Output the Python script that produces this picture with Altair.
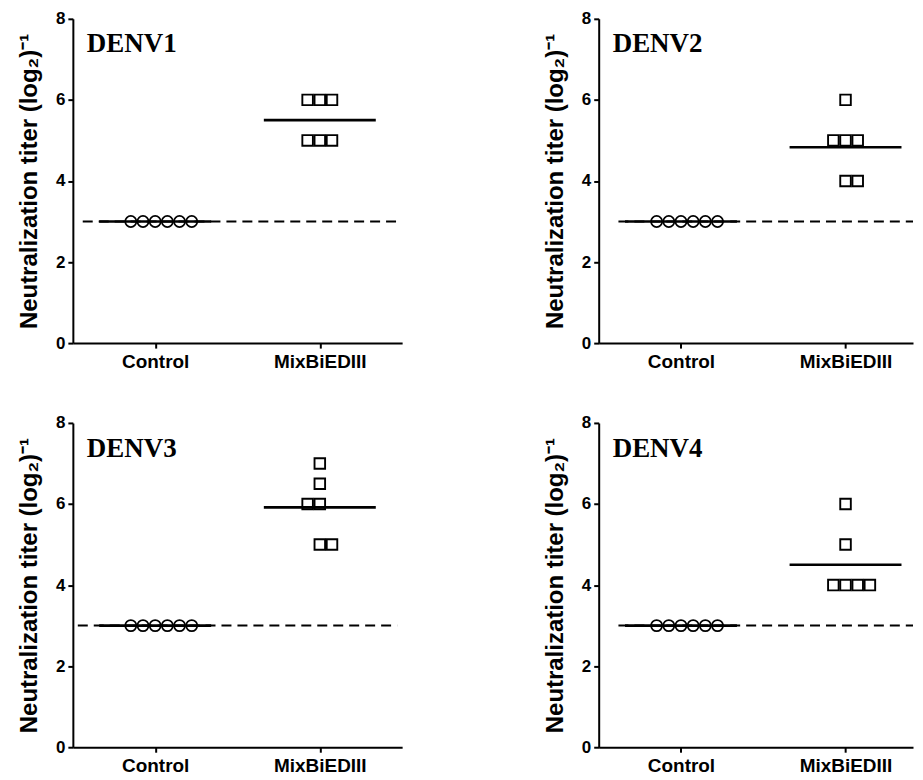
import altair as alt
import pandas as pd

# ---------------- data ----------------
panels = ["DENV1", "DENV2", "DENV3", "DENV4"]
groups = ["Control", "MixBiEDIII"]
group_pos = [0.5, 1.5]

control_values = {
    "DENV1": [3, 3, 3, 3, 3, 3],
    "DENV2": [3, 3, 3, 3, 3, 3],
    "DENV3": [3, 3, 3, 3, 3, 3],
    "DENV4": [3, 3, 3, 3, 3, 3],
}
control_slots = [-2, -1, 0, 1, 2, 3]

mix_values = {
    "DENV1": [6, 6, 6, 5, 5, 5],
    "DENV2": [6, 5, 5, 5, 4, 4],
    "DENV3": [7, 6.5, 6, 6, 5, 5],
    "DENV4": [6, 5, 4, 4, 4, 4],
}
mix_slots = {
    "DENV1": [-1, 0, 1, -1, 0, 1],
    "DENV2": [0, -1, 0, 1, 0, 1],
    "DENV3": [0, 0, -1, 0, 0, 1],
    "DENV4": [0, 0, -1, 0, 1, 2],
}
cutoff = 3
y_ticks = [0, 2, 4, 6, 8]

# ---------------- layout / style constants ----------------
SLOT = 0.074      # horizontal spacing of stacked symbols (data units)
HALF = 0.34       # half-width of the mean line (data units)
PANEL_H = 325
LEFT_W, RIGHT_W = 330, 315
LEFT_MAX, RIGHT_MAX = 2.0, 1.91
dash_span = {"DENV1": (0.06, 1.97), "DENV2": (0.12, 1.91),
             "DENV3": (0.03, 1.97), "DENV4": (0.12, 1.91)}
FONT = "Liberation Sans"
SERIF = "Liberation Serif"


def panel(name, width, xmax):
    rows = []
    for v, s in zip(control_values[name], control_slots):
        rows.append({"group": groups[0], "value": v, "x": group_pos[0] + s * SLOT})
    for v, s in zip(mix_values[name], mix_slots[name]):
        rows.append({"group": groups[1], "value": v, "x": group_pos[1] + s * SLOT})
    pts = pd.DataFrame(rows)

    means = pd.DataFrame({
        "group": groups,
        "mean": [sum(control_values[name]) / len(control_values[name]),
                 sum(mix_values[name]) / len(mix_values[name])],
        "pos": group_pos,
    })
    means["x1"] = means["pos"] - HALF
    means["x2"] = means["pos"] + HALF

    d0, d1 = dash_span[name]
    dash = pd.DataFrame({"y": [cutoff], "x1": [d0], "x2": [min(d1, xmax)]})

    xscale = alt.Scale(domain=[0, xmax], nice=False, zero=False)
    yscale = alt.Scale(domain=[0, 8], nice=False)
    xaxis = alt.Axis(values=group_pos, title=None, grid=False,
                     labelExpr="datum.value < 1 ? 'Control' : 'MixBiEDIII'",
                     labelFontSize=19, labelPadding=4)
    yaxis = alt.Axis(values=y_ticks, title="Neutralization titer (log₂)⁻¹",
                     grid=False, labelFontSize=17, labelPadding=3,
                     titlePadding=14)

    cut = alt.Chart(dash).mark_rule(color="black", strokeWidth=2,
                                    strokeDash=[10, 6]).encode(
        x=alt.X("x1:Q", scale=xscale, axis=xaxis),
        x2="x2:Q",
        y=alt.Y("y:Q", scale=yscale, axis=yaxis),
    )
    mean_rule = alt.Chart(means).mark_rule(color="black", strokeWidth=2.6).encode(
        x="x1:Q", x2="x2:Q", y="mean:Q")
    ctrl = alt.Chart(pts).transform_filter(alt.datum.group == groups[0]).mark_point(
        shape="circle", filled=False, size=125, stroke="black",
        strokeWidth=1.7, opacity=1).encode(x="x:Q", y="value:Q")
    mix = alt.Chart(pts).transform_filter(alt.datum.group == groups[1]).mark_point(
        shape="square", filled=False, size=112, stroke="black",
        strokeWidth=1.9, opacity=1).encode(x="x:Q", y="value:Q")
    label = alt.Chart(pd.DataFrame({"label": [name]})).mark_text(
        align="left", baseline="alphabetic", font=SERIF, fontWeight="bold",
        fontSize=27, color="black").encode(
        x=alt.datum(0.085), y=alt.datum(7.17), text="label:N")

    return alt.layer(cut, mean_rule, ctrl, mix, label).properties(
        width=width, height=PANEL_H)


charts = [
    panel("DENV1", LEFT_W, LEFT_MAX),
    panel("DENV2", RIGHT_W, RIGHT_MAX),
    panel("DENV3", LEFT_W, LEFT_MAX),
    panel("DENV4", RIGHT_W, RIGHT_MAX),
]

chart = alt.concat(*charts, columns=2, spacing={"row": 80, "column": 197},
                   bounds="flush").properties(
    padding={"left": 9, "top": 0, "right": 0, "bottom": 0}
).configure_view(stroke="transparent").configure_axis(
    domainColor="black", domainWidth=2, tickColor="black", tickWidth=2,
    tickSize=5, labelFont=FONT, labelFontWeight="bold", labelColor="black",
    titleFont=FONT, titleFontWeight="bold", titleFontSize=24, titleColor="black",
)

chart.save("out.html", embed_options={"renderer": "svg", "actions": False})
